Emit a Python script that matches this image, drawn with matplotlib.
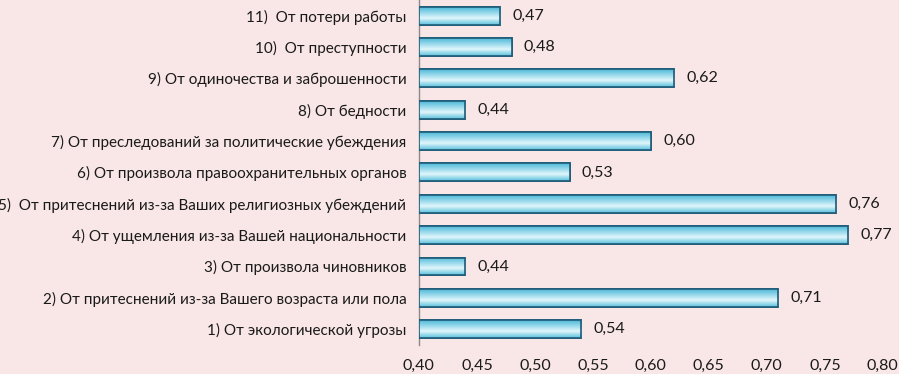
import numpy as np
import matplotlib.pyplot as plt
from matplotlib.colors import LinearSegmentedColormap

# данные (снизу вверх)
labels = [
    "1) От экологической угрозы",
    "2) От притеснений из-за Вашего возраста или пола",
    "3) От произвола чиновников",
    "4) От ущемления из-за Вашей национальности",
    "5)  От притеснений из-за Ваших религиозных убеждений",
    "6) От произвола правоохранительных органов",
    "7) От преследований за политические убеждения",
    "8) От бедности",
    "9) От одиночества и заброшенности",
    "10)  От преступности",
    "11)  От потери работы",
]
values = [0.54, 0.71, 0.44, 0.77, 0.76, 0.53, 0.60, 0.44, 0.62, 0.48, 0.47]
xticks = [0.40, 0.45, 0.50, 0.55, 0.60, 0.65, 0.70, 0.75, 0.80]

BG = '#f9e6e6'
plt.rcParams['font.family'] = ['Lato', 'DejaVu Sans']

fig = plt.figure(figsize=(8.99, 3.74), dpi=100, facecolor=BG)
ax = fig.add_axes([0.466, 0.078, 0.516, 0.922], facecolor=BG)

y = np.arange(1, len(values) + 1)
left = 0.40
bars = ax.barh(y, np.array(values) - left, left=left, height=0.57,
               color='#6cc6df', edgecolor='#1f5b78', linewidth=1.2, zorder=3)

# градиент внутри столбцов
cmap = LinearSegmentedColormap.from_list('bar', [
    (0.0, '#4fb9d7'), (0.35, '#9fdcee'), (0.62, '#e0f6fb'), (1.0, '#59c0dc')])
grad = np.linspace(0, 1, 64).reshape(-1, 1)
for b in bars:
    x0, y0 = b.get_x(), b.get_y()
    w, h = b.get_width(), b.get_height()
    im = ax.imshow(grad, cmap=cmap, aspect='auto', origin='upper',
                   extent=(x0, x0 + w, y0, y0 + h), zorder=3.5)
    im.set_clip_path(b)
    ax.add_patch(plt.Rectangle((x0, y0), w, h, fill=False,
                               edgecolor='#1f5b78', linewidth=1.2, zorder=4))

for yi, v in zip(y, values):
    ax.text(v + 0.0105, yi, f"{v:.2f}".replace('.', ','), va='center',
            ha='left', fontsize=11.5, color='#1a1a1a')

ax.set_xlim(0.40, 0.80)
ax.set_ylim(0.5, 11.5)
ax.set_yticks(y)
ax.set_yticklabels(labels, fontsize=11, color='#1a1a1a')
ax.set_xticks(xticks)
ax.set_xticklabels([f"{t:.2f}".replace('.', ',') for t in xticks],
                   fontsize=11.5, color='#1a1a1a')
ax.tick_params(axis='both', length=0)
ax.tick_params(axis='y', pad=9)
ax.tick_params(axis='x', pad=10)

for s in ['top', 'right', 'bottom']:
    ax.spines[s].set_visible(False)
ax.spines['left'].set_color('#8a8a8a')
ax.spines['left'].set_linewidth(1.0)

fig.savefig('out.png', dpi=100, facecolor=BG)
